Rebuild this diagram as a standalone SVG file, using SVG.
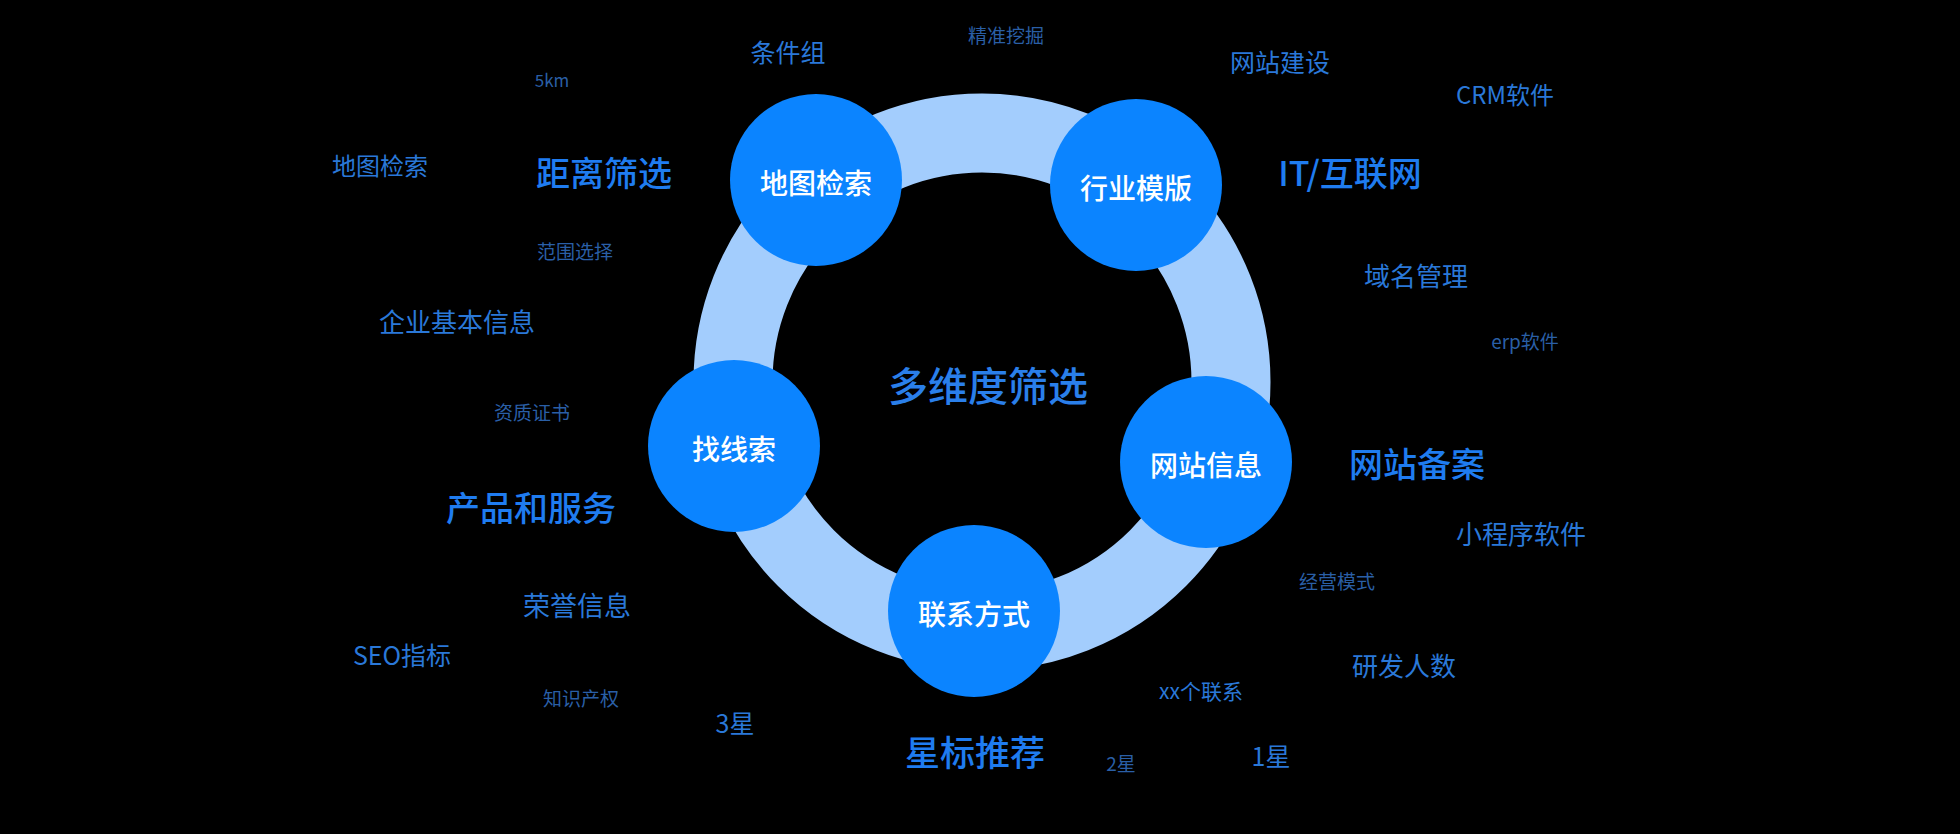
<svg xmlns="http://www.w3.org/2000/svg" width="1960" height="834" viewBox="0 0 1960 834">
<style>
text{font-family:"Noto Sans CJK SC","Noto Sans",sans-serif;text-anchor:middle;dominant-baseline:central}
.n{fill:#0b84ff}
.nt{fill:#fff;font-size:28px;font-weight:500}
.b{fill:#1f7cf0;font-weight:500}
.m{fill:#2a78d8}
.s{fill:#2a5fa6}
</style>
<rect width="1960" height="834" fill="#000"/>
<g id="connectors">
<circle cx="982" cy="382" r="249" fill="none" stroke="#a3cdfd" stroke-width="79"/>
</g>
<text x="988" y="384" class="b" style="font-size:40px;fill:#2a7fea">多维度筛选</text>
<g id="n1"><circle class="n" cx="816" cy="180" r="86"/><text class="nt" x="816" y="182">地图检索</text></g>
<g id="n2"><circle class="n" cx="1136" cy="185" r="86"/><text class="nt" x="1136" y="187">行业模版</text></g>
<g id="n3"><circle class="n" cx="734" cy="446" r="86"/><text class="nt" x="734" y="448">找线索</text></g>
<g id="n4"><circle class="n" cx="1206" cy="462" r="86"/><text class="nt" x="1206" y="464">网站信息</text></g>
<g id="n5"><circle class="n" cx="974" cy="611" r="86"/><text class="nt" x="974" y="613">联系方式</text></g>
<g id="labels">
<text class="m" x="788" y="51" font-size="25">条件组</text>
<text class="s" x="1006" y="34" font-size="19">精准挖掘</text>
<text class="m" x="1280" y="61" font-size="25">网站建设</text>
<text class="m" x="1505" y="93" font-size="24">CRM软件</text>
<text class="s" x="552" y="79" font-size="17">5km</text>
<text class="m" x="380" y="164" font-size="24">地图检索</text>
<text class="b" x="604" y="171" font-size="34">距离筛选</text>
<text class="b" x="1350" y="171" font-size="34">IT/互联网</text>
<text class="s" x="575" y="250" font-size="19">范围选择</text>
<text class="m" x="1416" y="274" font-size="26">域名管理</text>
<text class="s" x="1525" y="340" font-size="19">erp软件</text>
<text class="m" x="457" y="320" font-size="26">企业基本信息</text>
<text class="s" x="532" y="411" font-size="19">资质证书</text>
<text class="b" x="1417" y="462" font-size="34">网站备案</text>
<text class="b" x="531" y="506" font-size="34">产品和服务</text>
<text class="m" x="1521" y="532" font-size="26">小程序软件</text>
<text class="s" x="1337" y="580" font-size="19">经营模式</text>
<text class="m" x="577" y="604" font-size="27">荣誉信息</text>
<text class="m" x="1404" y="664" font-size="26">研发人数</text>
<text class="m" x="402" y="654" font-size="25">SEO指标</text>
<text class="m" x="1201" y="690" font-size="21">xx个联系</text>
<text class="s" x="581" y="697" font-size="19">知识产权</text>
<text class="m" x="735" y="722" font-size="25">3星</text>
<text class="b" x="975" y="750" font-size="35">星标推荐</text>
<text class="s" x="1121" y="762" font-size="19">2星</text>
<text class="m" x="1271" y="755" font-size="25">1星</text>
</g>
</svg>
